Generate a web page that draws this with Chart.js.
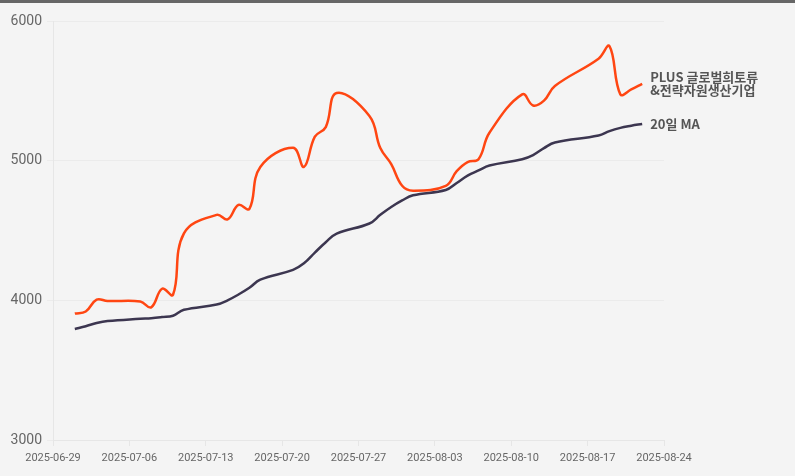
<!DOCTYPE html>
<html>
<head>
<meta charset="utf-8">
<script src="https://cdn.jsdelivr.net/npm/chart.js@4"></script>
<style>
html, body { margin: 0; padding: 0; background: #f4f4f4; }
#wrap { position: relative; width: 795px; height: 476px; }
#topbar { position: absolute; left: 0; top: 0; width: 795px; height: 3px; background: #666; }
</style>
</head>
<body>
<div id="wrap">
    <div id="topbar"></div>
    <canvas id="chart"></canvas>
</div>
<script>
// trading days (08-15 holiday is missing)
const dates = [
    '2025-07-01', '2025-07-02', '2025-07-03', '2025-07-04',
    '2025-07-07', '2025-07-08', '2025-07-09', '2025-07-10', '2025-07-11',
    '2025-07-14', '2025-07-15', '2025-07-16', '2025-07-17', '2025-07-18',
    '2025-07-21', '2025-07-22', '2025-07-23', '2025-07-24', '2025-07-25',
    '2025-07-28', '2025-07-29', '2025-07-30', '2025-07-31', '2025-08-01',
    '2025-08-04', '2025-08-05', '2025-08-06', '2025-08-07', '2025-08-08',
    '2025-08-11', '2025-08-12', '2025-08-13', '2025-08-14',
    '2025-08-18', '2025-08-19', '2025-08-20', '2025-08-21', '2025-08-22'
];

const close_price = [
    3905, 3920, 4005, 3995,
    3992, 3950, 4083, 4040, 4480,
    4612, 4580, 4683, 4655, 4955,
    5092, 4955, 5172, 5240, 5485,
    5320, 5090, 4975, 4820, 4785,
    4820, 4925, 4990, 5010, 5200,
    5475, 5395, 5430, 5535,
    5730, 5820, 5475, 5510, 5550
];

const ma_20 = [
    3795, 3815, 3838, 3852,
    3868, 3872, 3880, 3890, 3932,
    3970, 4000, 4042, 4090, 4148,
    4218, 4265, 4342, 4416, 4478,
    4550, 4612, 4668, 4715, 4752,
    4790, 4840, 4893, 4930, 4965,
    5010, 5040, 5090, 5130,
    5180, 5212, 5235, 5250, 5263
];

const series_names = ['PLUS 글로벌희토류\n&전략자원생산기업', '20일 MA'];
const x_ticks = ['2025-06-29', '2025-07-06', '2025-07-13', '2025-07-20', '2025-07-27',
                 '2025-08-03', '2025-08-10', '2025-08-17', '2025-08-24'];
const y_ticks = [3000, 4000, 5000, 6000];

const startDay = Date.UTC(2025, 5, 29);

function dayIndex(d) {
    const p = d.split('-');
    return (Date.UTC(+p[0], +p[1] - 1, +p[2]) - startDay) / 86400000;
}

function toPoints(values) {
    return values.map((v, i) => ({ x: dayIndex(dates[i]), y: v }));
}

// series name written right after the last point of each line
const endLabels = {
    id: 'endLabels',
    afterDatasetsDraw(chart) {
        const ctx = chart.ctx;
        ctx.save();
        ctx.font = 'bold 13px "Noto Sans CJK KR"';
        ctx.fillStyle = '#555';
        ctx.textBaseline = 'middle';
        chart.data.datasets.forEach((ds, i) => {
            const pts = chart.getDatasetMeta(i).data;
            const last = pts[pts.length - 1];
            const lines = ds.label.split('\n');
            lines.forEach((line, j) => {
                ctx.fillText(line, last.x + 8, last.y + (j - (lines.length - 1) / 2) * 13);
            });
        });
        ctx.restore();
    }
};

const chartCanvas = document.getElementById('chart');

chart = new Chart(chartCanvas, {
    type: 'line',
    data: {
        datasets: [
            {
                label: series_names[0],
                data: toPoints(close_price),
                borderColor: '#ff4612',
                borderWidth: 2.5,
                tension: 0.4
            },
            {
                label: series_names[1],
                data: toPoints(ma_20),
                borderColor: '#3c3650',
                borderWidth: 2.5,
                tension: 0.4
            }
        ]
    },
    options: {
        animation: false,
        responsive: true,
        maintainAspectRatio: false,
        pointStyle: false,
        layout: {
            padding: { top: 21, right: 131, left: 0, bottom: 0 }
        },
        scales: {
            x: {
                type: 'linear',
                min: 0,
                max: 56,
                afterFit: scale => { scale.height = 36; },
                afterBuildTicks: scale => {
                    scale.ticks = x_ticks.map(d => ({ value: dayIndex(d) }));
                },
                grid: { drawOnChartArea: false, tickLength: 6, color: '#e6e6e6' },
                border: { color: '#e6e6e6' },
                ticks: {
                    autoSkip: false,
                    maxRotation: 0,
                    padding: 6,
                    color: '#666',
                    font: { family: 'Roboto', size: 11 },
                    callback: (value, index) => x_ticks[index]
                }
            },
            y: {
                min: 3000,
                max: 6000,
                afterFit: scale => { scale.width = 53; },
                afterBuildTicks: scale => {
                    scale.ticks = y_ticks.map(v => ({ value: v }));
                },
                grid: { color: '#ebebeb', tickLength: 6 },
                border: { color: '#e6e6e6' },
                ticks: {
                    padding: 5,
                    color: '#666',
                    font: { family: 'Roboto', size: 14 },
                    callback: value => String(value)
                }
            }
        },
        plugins: {
            legend: { display: false },
            tooltip: { enabled: false }
        }
    },
    plugins: [endLabels]
});
</script>
</body>
</html>
